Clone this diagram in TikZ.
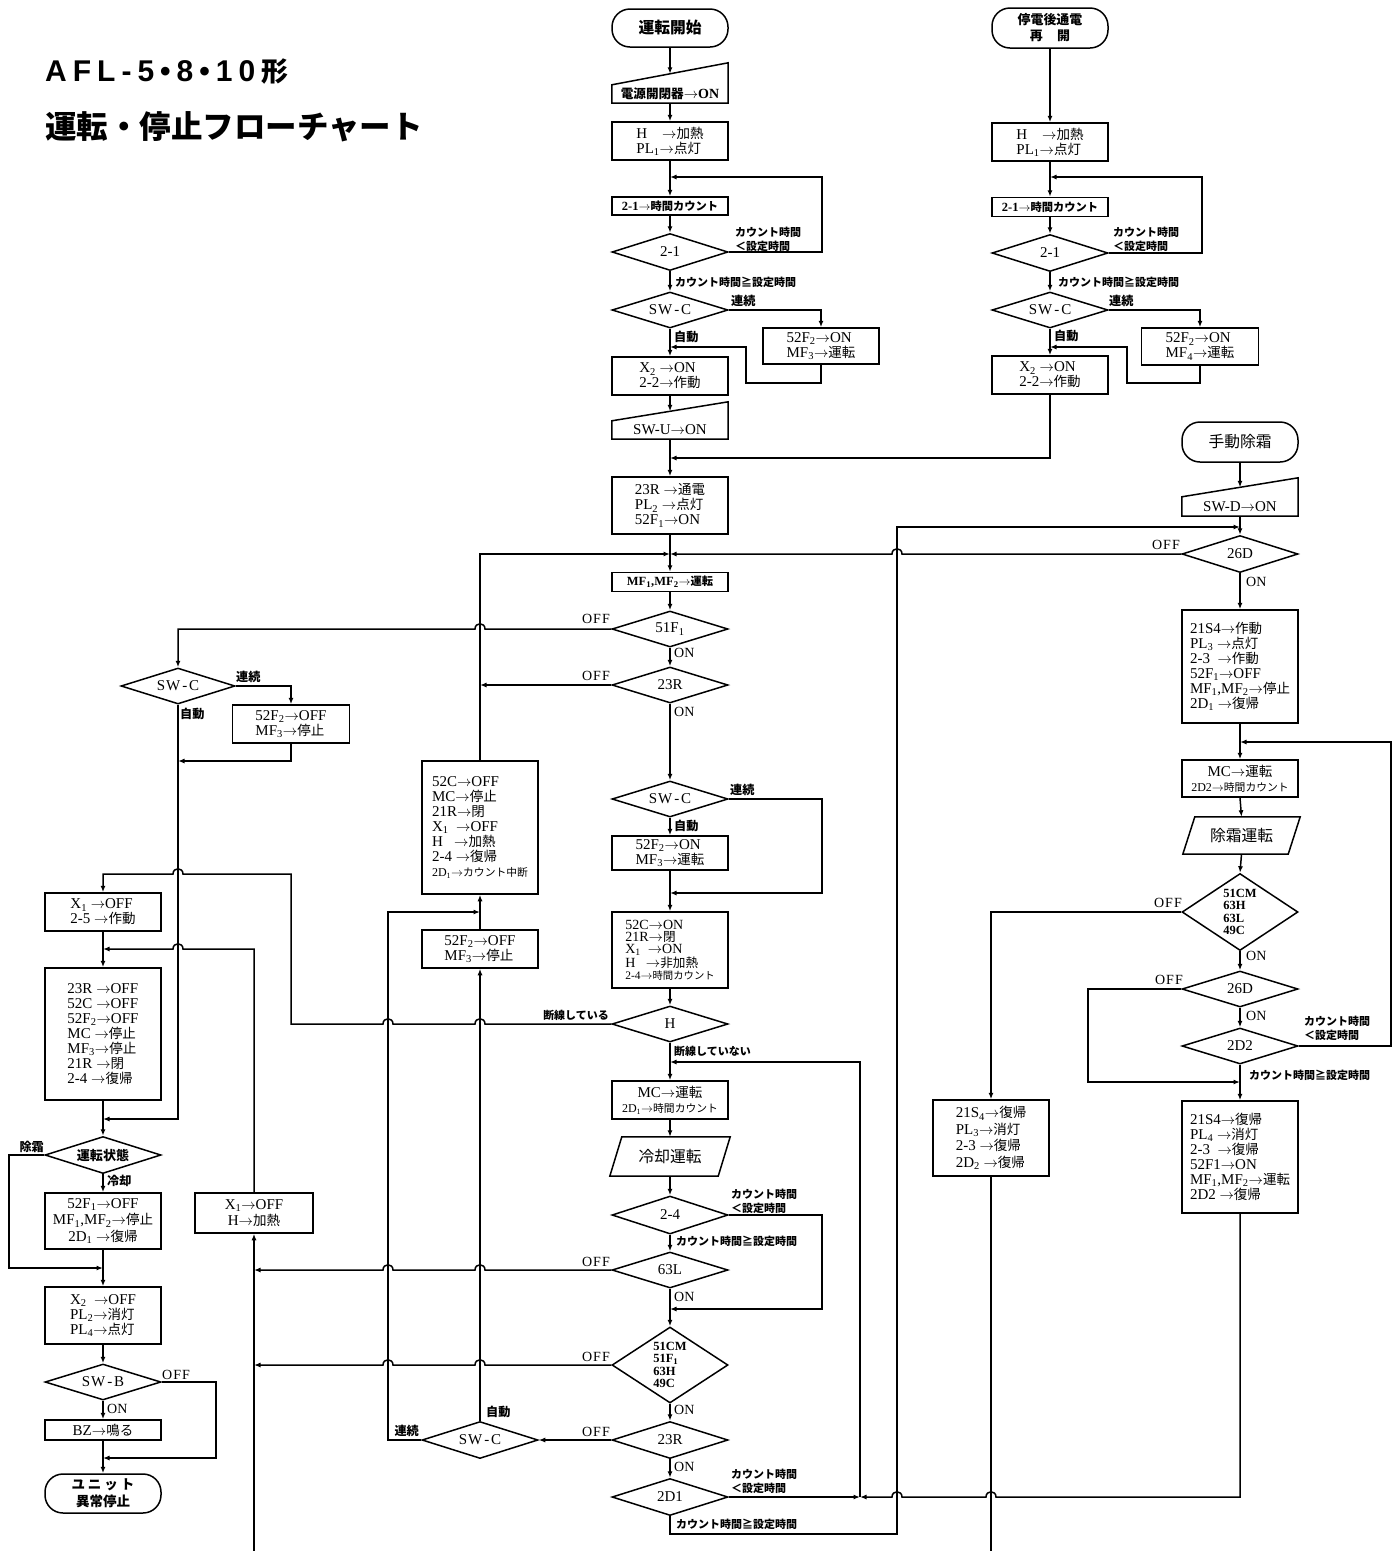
\documentclass[tikz,border=0pt]{standalone}
\usepackage{fontspec}
\setmainfont{Liberation Serif}
\newfontfamily\jp{Noto Sans CJK JP}[Scale=0.9]
\newfontfamily\tsans{Liberation Sans}
\usetikzlibrary{shapes.geometric,arrows.meta,calc}
\XeTeXinterchartokenstate=1
\newXeTeXintercharclass\cjkcls
\newcount\cjkc
\cjkc="2267\relax \XeTeXcharclass\cjkc=\cjkcls
\cjkc="3000\relax
\loop\XeTeXcharclass\cjkc=\cjkcls\relax\ifnum\cjkc<"30FF\relax\advance\cjkc by 1\relax\repeat
\cjkc="4E00\relax
\loop\XeTeXcharclass\cjkc=\cjkcls\relax\ifnum\cjkc<"9FFF\relax\advance\cjkc by 1\relax\repeat
\cjkc="FF00\relax
\loop\XeTeXcharclass\cjkc=\cjkcls\relax\ifnum\cjkc<"FFEF\relax\advance\cjkc by 1\relax\repeat
\def\latinfam{\rmfamily}
\XeTeXinterchartoks 0 \cjkcls = {\jp}
\XeTeXinterchartoks 4095 \cjkcls = {\jp}
\XeTeXinterchartoks \cjkcls 0 = {\latinfam}
\XeTeXinterchartoks \cjkcls 4095 = {\latinfam}
\newcommand\lo[1]{\textsubscript{#1}}
\newcommand\rt{\ensuremath{\rightarrow}}
\newcommand\fA{\fontsize{15}{15}\selectfont}
\newcommand\fB{\fontsize{12}{13}\selectfont}
\newcommand\fL{\fontsize{12.2}{14}\selectfont\bfseries}
\newcommand\fK{\fontsize{13.5}{15}\selectfont\bfseries}
\newcommand\fT{\fontsize{17.5}{20}\selectfont}
\newcommand\swc{S\kern1ptW\kern2pt-\kern2ptC}
\newcommand\offt{O\kern1ptF\kern1ptF}
\newcommand\jl[2]{-- ({#1+5},#2) .. controls ({#1+5},{#2-7}) and ({#1-5},{#2-7}) .. ({#1-5},#2)}
\begin{document}
\begin{tikzpicture}[x=1pt,y=-1pt,
  ln/.style={line width=1.5pt},
  arr/.style={line width=1.5pt,-{Latex[length=6.5pt,width=5pt]}},
  pbox/.style={draw,line width=1.5pt,minimum width=116pt,inner sep=1pt,align=left,font=\fA},
  minp/.style={minimum width=116pt,inner sep=0pt,align=center},
  dia/.style={draw,diamond,line width=1.5pt,minimum width=116pt,minimum height=36pt,aspect=3.2,inner sep=0pt,font=\fA},
  tbox/.style={draw,line width=1.5pt,rounded corners=18pt,minimum width=116pt,minimum height=38pt,inner sep=1pt,align=center,font=\fT\bfseries},
  lbl/.style={inner sep=0pt,font=\fL,align=left},
  lbk/.style={inner sep=0pt,font=\fK},
  oo/.style={inner sep=0pt,font=\fontsize{14}{15}\selectfont},
]
\fill[white] (0,0) rectangle (1400,1551);
\useasboundingbox (0,0) rectangle (1400,1551);

% ---------------- title ----------------
\node[anchor=west,inner sep=0pt,font=\tsans\bfseries\fontsize{30}{32}\selectfont\def\latinfam{\tsans}] (t1) at (45,72)
  {A\kern6ptF\kern6ptL\kern6pt-\kern6pt5\kern6pt•\kern6pt8\kern6pt•\kern6pt1\kern6pt0\kern6pt形};
\node[anchor=west,inner sep=0pt,font=\jp\bfseries\fontsize{35}{38}\selectfont] (t2) at (45,127) {運転・停止フローチャート};

% ---------------- centre column ----------------
\node[tbox] (start) at (670,28) {運転開始};
\node[minp,minimum height=18pt,font=\fontsize{14}{15}\selectfont\bfseries] (pwr) at (670,94) {電源開閉器\rt ON};
\draw[ln] (pwr.south west) -- (pwr.south east) -- ([yshift=22pt]pwr.north east) -- (pwr.north west) -- cycle;
\coordinate (pwrtop) at ([yshift=11pt]pwr.north);
\node[pbox,minimum height=38pt] (h1) at (670,141) {H\hphantom{L\lo1}\rt 加熱\\PL\lo1\rt 点灯};
\coordinate (j1) at (670,177);
\node[pbox,minimum height=18pt,inner sep=0pt,align=center,font=\fontsize{12.5}{14}\selectfont\bfseries] (c21) at (670,206) {2-1\rt 時間カウント};
\node[dia,minimum height=37pt] (d21) at (670,252) {2-1};
\node[dia] (sw1) at (670,310) {\swc};
\node[pbox,minimum height=36pt] (b52a) at (821,346) {52F\lo2\rt ON\\MF\lo3\rt 運転};
\coordinate (j2) at (670,347);
\node[pbox,minimum height=38pt] (x2a) at (670,376) {X\lo2\ \rt ON\\2-2\rt 作動};
\node[minp,minimum height=18pt,font=\fA] (swu) at (670,430) {SW-U\rt ON};
\draw[ln] (swu.south west) -- (swu.south east) -- ([yshift=19pt]swu.north east) -- (swu.north west) -- cycle;
\coordinate (swutop) at ([yshift=9.5pt]swu.north);
\coordinate (j3) at (670,458);
\node[pbox,minimum height=57pt] (r23) at (670,505.5) {23R\ \rt 通電\\PL\lo2\ \rt 点灯\\52F\lo1\rt ON};
\coordinate (j4) at (670,554);
\node[pbox,minimum height=19pt,inner sep=0pt,align=center,font=\fontsize{12.5}{14}\selectfont\bfseries] (mf12) at (670,582) {MF\lo1,MF\lo2\rt 運転};
\node[dia] (d51) at (670,629) {51F\lo1};
\node[dia] (d23a) at (670,685) {23R};
\coordinate (jc) at (480,685);
\node[dia] (sw2) at (670,799) {\swc};
\node[pbox,minimum height=34pt] (b52b) at (670,853) {52F\lo2\rt ON\\MF\lo3\rt 運転};
\coordinate (j5) at (670,893);
\node[pbox,minimum height=76pt,font=\fontsize{14}{12}\selectfont] (b52c) at (670,950) {52C\rt ON\\21R\rt 閉\\X\lo1\ \ \rt ON\\H\ \ \ \rt 非加熱\\{\fontsize{11.5}{12}\selectfont 2-4\rt 時間カウント}};
\node[dia] (dH) at (670,1024) {H};
\coordinate (j6) at (670,1062);
\node[pbox,minimum height=38pt,align=center] (bmc) at (670,1100) {MC\rt 運転\\{\fB 2D\lo1\rt 時間カウント}};
\node[minp,minimum width=120pt,minimum height=39pt,font=\fT] (cool) at (670,1156.5) {冷却運転};
\draw[ln] (cool.south west) -- ([xshift=-12pt]cool.south east) -- (cool.north east) -- ([xshift=12pt]cool.north west) -- cycle;
\node[dia,minimum height=38pt] (d24) at (670,1215) {2-4};
\node[dia] (d63) at (670,1270) {63L};
\coordinate (j7) at (670,1309);
\node[dia,minimum height=76pt,aspect=1.53,align=left,font=\fontsize{12.5}{12.5}\selectfont\bfseries] (d51cm) at (670,1365) {51CM\\51F\lo1\\63H\\49C};
\node[dia,minimum height=37pt] (d23b) at (670,1440) {23R};
\node[dia,minimum height=37pt] (d2d1) at (670,1497) {2D1};
\coordinate (j9) at (860,1497);

% ---------------- left of centre ----------------
\node[pbox,minimum height=133pt] (b52off) at (480,827.5) {52C\rt OFF\\MC\rt 停止\\21R\rt 閉\\X\lo1\ \ \rt OFF\\H\ \ \ \rt 加熱\\2-4\ \rt 復帰\\{\fontsize{12}{15}\selectfont 2D\lo1\rt カウント中断}};
\coordinate (j8) at (480,912);
\node[pbox,minimum height=38pt] (b52f2off) at (480,949) {52F\lo2\rt OFF\\MF\lo3\rt 停止};
\node[dia,minimum height=37pt] (sw3) at (480,1440) {\swc};

% ---------------- left column ----------------
\node[dia,minimum width=114pt] (swL) at (178,686) {\swc};
\node[pbox,minimum width=117pt,minimum height=38pt] (b52L) at (291,724) {52F\lo2\rt OFF\\MF\lo3\rt 停止};
\coordinate (jL1) at (178,761);
\node[pbox,minimum height=38pt] (x1off) at (103,912) {X\lo1\ \rt OFF\\2-5\ \rt 作動};
\coordinate (jL2) at (103,949);
\node[pbox,minimum height=132pt] (b23off) at (103,1034) {23R\ \rt OFF\\52C\ \rt OFF\\52F\lo2\rt OFF\\MC\ \rt 停止\\MF\lo3\rt 停止\\21R\ \rt 閉\\2-4\ \rt 復帰};
\coordinate (jL3) at (103,1119);
\node[dia,minimum height=37pt,font=\fontsize{14.5}{16}\selectfont\bfseries] (dst) at (103,1155) {運転状態};
\node[pbox,minimum height=56pt,align=center,font=\fontsize{15}{16.5}\selectfont] (b52f1) at (103,1221) {52F\lo1\rt OFF\\MF\lo1,MF\lo2\rt 停止\\2D\lo1\ \rt 復帰};
\coordinate (jL4) at (103,1268);
\node[pbox,minimum height=57pt] (x2off) at (103,1315.5) {X\lo2\ \ \rt OFF\\PL\lo2\rt 消灯\\PL\lo4\rt 点灯};
\node[dia] (swb) at (103,1382) {S\kern1ptW\kern2pt-\kern2ptB};
\node[pbox,minimum height=20pt,inner sep=0pt,align=center] (bz) at (103,1430) {BZ\rt 鳴る};
\coordinate (jL5) at (103,1458);
\node[tbox,minimum height=39pt,font=\fontsize{15}{17}\selectfont\bfseries] (stop) at (103,1493.5) {ユ\kern3ptニ\kern3ptッ\kern3ptト\\異常停止};
\node[pbox,minimum width=118pt,minimum height=40pt,align=center,font=\fontsize{15}{16}\selectfont] (x1h) at (254,1213) {X\lo1\rt OFF\\H\rt 加熱};

% ---------------- right-top column ----------------
\node[tbox,minimum height=40pt,font=\fontsize{14.4}{16}\selectfont\bfseries] (start2) at (1050,28) {停電後通電\\再\quad 開};
\node[pbox,minimum height=38pt] (h2) at (1050,142) {H\hphantom{L\lo1}\rt 加熱\\PL\lo1\rt 点灯};
\coordinate (jR1) at (1050,177);
\node[pbox,minimum height=19pt,inner sep=0pt,align=center,font=\fontsize{12.5}{14}\selectfont\bfseries] (c21b) at (1050,207) {2-1\rt 時間カウント};
\node[dia,minimum height=37pt] (d21b) at (1050,253) {2-1};
\node[dia] (sw4) at (1050,310) {\swc};
\node[pbox,minimum width=117pt,minimum height=37pt] (b52d) at (1200,346.5) {52F\lo2\rt ON\\MF\lo4\rt 運転};
\coordinate (jR2) at (1050,347);
\node[pbox,minimum height=38pt] (x2b) at (1050,375) {X\lo2\ \rt ON\\2-2\rt 作動};

% ---------------- right column ----------------
\node[tbox,minimum height=40pt,font=\fT] (start3) at (1240,442) {手動除霜};
\node[minp,minimum height=19pt,font=\fA] (swd) at (1240,506.5) {SW-D\rt ON};
\draw[ln] (swd.south west) -- (swd.south east) -- ([yshift=19pt]swd.north east) -- (swd.north west) -- cycle;
\coordinate (swdtop) at ([yshift=9.5pt]swd.north);
\coordinate (jD1) at (1240,527);
\node[dia,minimum height=37pt] (d26a) at (1240,554) {26D};
\node[pbox,minimum height=113pt] (b21s4) at (1240,666.5) {21S4\rt 作動\\PL\lo3\ \rt 点灯\\2-3\ \ \rt 作動\\52F\lo1\rt OFF\\MF\lo1,MF\lo2\rt 停止\\2D\lo1\ \rt 復帰};
\coordinate (jD2) at (1240,742);
\node[pbox,minimum height=37pt,align=center] (bmc2) at (1240,778.5) {MC\rt 運転\\{\fB 2D2\rt 時間カウント}};
\node[minp,minimum width=117pt,minimum height=37pt,font=\fT] (defr) at (1241.5,835.5) {除霜運転};
\draw[ln] (defr.south west) -- ([xshift=-12pt]defr.south east) -- (defr.north east) -- ([xshift=12pt]defr.north west) -- cycle;
\node[dia,minimum height=77pt,aspect=1.5,align=left,font=\fontsize{12.5}{12.5}\selectfont\bfseries] (d51cm2) at (1240,912) {51CM\\63H\\63L\\49C};
\node[dia] (d26b) at (1240,989) {26D};
\node[dia] (d2d2) at (1240,1046) {2D2};
\coordinate (jD3) at (1240,1082);
\node[pbox,minimum height=112pt] (b21r) at (1240,1157) {21S4\rt 復帰\\PL\lo4\ \rt 消灯\\2-3\ \ \rt 復帰\\52F1\rt ON\\MF\lo1,MF\lo2\rt 運転\\2D2\ \rt 復帰};
\node[pbox,minimum height=76pt,font=\fontsize{15}{16.5}\selectfont] (b21l) at (991,1138) {21S\lo4\rt 復帰\\PL\lo3\rt 消灯\\2-3\ \rt 復帰\\2D\lo2\ \rt 復帰};

% ---------------- bend points ----------------
\coordinate (lp1) at (822,177);
\coordinate (lp2) at (746,383);
\coordinate (lp3) at (822,893);
\coordinate (lp4) at (291,1024);
\coordinate (lp5) at (291,874);
\coordinate (lp6) at (822,1309);
\coordinate (jx1) at (254,1270);
\coordinate (jx2) at (254,1365);
\coordinate (lp7) at (897,1534);
\coordinate (lp8) at (897,527);
\coordinate (lp9) at (1000,1497);
\coordinate (lp10) at (388,912);
\coordinate (lp11) at (178,1119);
\coordinate (lp12) at (9,1268);
\coordinate (lp13) at (216,1458);
\coordinate (lp14) at (254,949);
\coordinate (ob1) at (991,1551);
\coordinate (ob2) at (254,1551);
\coordinate (lq1) at (1202,177);
\coordinate (lq2) at (1127,383);
\coordinate (lq3) at (1088,1082);
\coordinate (lq4) at (1391,742);

% ---------------- connectors: centre ----------------
\draw[arr] (start.south) -- (pwrtop);
\draw[arr] (pwr.south) -- (h1.north);
\draw[arr] (h1.south) -- (c21.north);
\draw[arr] (c21.south) -- (d21.north);
\draw[arr] (d21.east) -| (lp1) -- (j1);
\draw[arr] (d21.south) -- (sw1.north);
\draw[arr] (sw1.east) -| (b52a.north);
\draw[arr] (sw1.south) -- (x2a.north);
\draw[arr] (b52a.south) |- (lp2) |- (j2);
\draw[arr] (x2a.south) -- (swutop);
\draw[arr] (swu.south) -- (r23.north);
\draw[arr] (x2b.south) |- (j3);
\draw[arr] (r23.south) -- (mf12.north);
\draw[arr] (d26a.west) \jl{897}{554} -- (j4);
\draw[arr] (b52off.north) |- (j4);
\draw[arr] (mf12.south) -- (d51.north);
\draw[arr] (d51.west) \jl{480}{629} -| (swL.north);
\draw[arr] (d51.south) -- (d23a.north);
\draw[arr] (d23a.west) -- (jc);
\draw[arr] (d23a.south) -- (sw2.north);
\draw[arr] (sw2.east) -| (lp3) -- (j5);
\draw[arr] (sw2.south) -- (b52b.north);
\draw[arr] (b52b.south) -- (b52c.north);
\draw[arr] (b52c.south) -- (dH.north);
\draw[arr] (dH.west) \jl{480}{1024} \jl{388}{1024} -- (lp4) -- (lp5) \jl{178}{874} -| (x1off.north);
\draw[arr] (dH.south) -- (bmc.north);
\draw[arr] (bmc.south) -- (cool.north);
\draw[arr] (cool.south) -- (d24.north);
\draw[arr] (d24.east) -| (lp6) -- (j7);
\draw[arr] (d24.south) -- (d63.north);
\draw[arr] (d63.west) \jl{480}{1270} \jl{388}{1270} -- (jx1);
\draw[arr] (d63.south) -- (d51cm.north);
\draw[arr] (d51cm.west) \jl{480}{1365} \jl{388}{1365} -- (jx2);
\draw[arr] (d51cm.south) -- (d23b.north);
\draw[arr] (d23b.west) -- (sw3.east);
\draw[arr] (d23b.south) -- (d2d1.north);
\draw[arr] (d2d1.east) -- (j9);
\draw[arr] (d2d1.south) |- (lp7) -- (lp8) -- (jD1);
\draw[arr] (j9) |- (j6);
\draw[arr] (b21r.south) |- (lp9) \jl{991}{1497} \jl{897}{1497} -- (j9);

% ---------------- connectors: left of centre ----------------
\draw[arr] (sw3.north) -- (b52f2off.south);
\draw[arr] (sw3.west) -| (lp10) -- (j8);
\draw[arr] (b52f2off.north) -- (b52off.south);

% ---------------- connectors: left ----------------
\draw[arr] (swL.east) -| (b52L.north);
\draw[arr] (b52L.south) |- (jL1);
\draw[arr] (swL.south) -- (lp11) -- (jL3);
\draw[arr] (x1off.south) -- (b23off.north);
\draw[arr] (b23off.south) -- (dst.north);
\draw[arr] (dst.west) -| (lp12) -- (jL4);
\draw[arr] (dst.south) -- (b52f1.north);
\draw[arr] (b52f1.south) -- (x2off.north);
\draw[arr] (x2off.south) -- (swb.north);
\draw[arr] (swb.east) -| (lp13) -- (jL5);
\draw[arr] (swb.south) -- (bz.north);
\draw[arr] (bz.south) -- (stop.north);
\draw[arr] (ob2) -- (x1h.south);
\draw[arr] (x1h.north) -- (lp14) \jl{178}{949} -- (jL2);

% ---------------- connectors: right top ----------------
\draw[arr] (start2.south) -- (h2.north);
\draw[arr] (h2.south) -- (c21b.north);
\draw[arr] (c21b.south) -- (d21b.north);
\draw[arr] (d21b.east) -| (lq1) -- (jR1);
\draw[arr] (d21b.south) -- (sw4.north);
\draw[arr] (sw4.east) -| (b52d.north);
\draw[arr] (sw4.south) -- (x2b.north);
\draw[arr] (b52d.south) |- (lq2) |- (jR2);

% ---------------- connectors: right ----------------
\draw[arr] (start3.south) -- (swdtop);
\draw[arr] (swd.south) -- (d26a.north);
\draw[arr] (d26a.south) -- (b21s4.north);
\draw[arr] (b21s4.south) -- (bmc2.north);
\draw[arr] (bmc2.south) -- (defr.north);
\draw[arr] (defr.south) -- (d51cm2.north);
\draw[arr] (d51cm2.west) -| (b21l.north);
\draw[arr] (d51cm2.south) -- (d26b.north);
\draw[arr] (d26b.west) -| (lq3) -- (jD3);
\draw[arr] (d26b.south) -- (d2d2.north);
\draw[arr] (d2d2.east) -| (lq4) -- (jD2);
\draw[arr] (d2d2.south) -- (b21r.north);
\draw[ln] (b21l.south) -- (ob1);

% ---------------- labels ----------------
\node[lbl,anchor=west] (la1) at (735,239) {カウント時間\\＜設定時間};
\node[lbl,anchor=west] (la2) at (675,282) {カウント時間≧設定時間};
\node[lbk,anchor=west] (la3) at (731,301) {連続};
\node[lbk,anchor=west] (la4) at (674,337) {自動};
\node[lbl,anchor=west] (lb1) at (1113,239) {カウント時間\\＜設定時間};
\node[lbl,anchor=west] (lb2) at (1058,282) {カウント時間≧設定時間};
\node[lbk,anchor=west] (lb3) at (1109,301) {連続};
\node[lbk,anchor=west] (lb4) at (1054,336) {自動};

\node[oo,anchor=east] (lc1) at (610,619) {\offt};
\node[oo,anchor=west] (lc2) at (674,653) {ON};
\node[oo,anchor=east] (lc3) at (610,676) {\offt};
\node[oo,anchor=west] (lc4) at (674,712) {ON};
\node[lbk,anchor=west] (lc5) at (730,790) {連続};
\node[lbk,anchor=west] (lc6) at (674,826) {自動};
\node[lbl,anchor=east] (lc7) at (609,1015) {断線している};
\node[lbl,anchor=west] (lc8) at (674,1051) {断線していない};
\node[lbl,anchor=west] (lc9) at (731,1201) {カウント時間\\＜設定時間};
\node[lbl,anchor=west] (lc10) at (676,1241) {カウント時間≧設定時間};
\node[oo,anchor=east] (lc11) at (610,1262) {\offt};
\node[oo,anchor=west] (lc12) at (674,1297) {ON};
\node[oo,anchor=east] (lc13) at (610,1357) {\offt};
\node[oo,anchor=west] (lc14) at (674,1410) {ON};
\node[oo,anchor=east] (lc15) at (610,1432) {\offt};
\node[oo,anchor=west] (lc16) at (674,1467) {ON};
\node[lbl,anchor=west] (lc17) at (731,1481) {カウント時間\\＜設定時間};
\node[lbl,anchor=west] (lc18) at (676,1524) {カウント時間≧設定時間};
\node[lbk,anchor=west] (lc19) at (486,1412) {自動};
\node[lbk,anchor=east] (lc20) at (419,1431) {連続};

\node[lbk,anchor=west] (ld1) at (236,677) {連続};
\node[lbk,anchor=west] (ld2) at (180,714) {自動};
\node[lbk,anchor=east] (ld3) at (44,1147) {除霜};
\node[lbk,anchor=west] (ld4) at (107,1181) {冷却};
\node[oo,anchor=west] (ld5) at (162,1375) {\offt};
\node[oo,anchor=west] (ld6) at (107,1409) {ON};

\node[oo,anchor=east] (le1) at (1180,545) {\offt};
\node[oo,anchor=west] (le2) at (1246,582) {ON};
\node[oo,anchor=east] (le3) at (1182,903) {\offt};
\node[oo,anchor=west] (le4) at (1246,956) {ON};
\node[oo,anchor=east] (le5) at (1183,980) {\offt};
\node[oo,anchor=west] (le6) at (1246,1016) {ON};
\node[lbl,anchor=west] (le7) at (1304,1028) {カウント時間\\＜設定時間};
\node[lbl,anchor=west] (le8) at (1249,1075) {カウント時間≧設定時間};
\end{tikzpicture}
\end{document}
